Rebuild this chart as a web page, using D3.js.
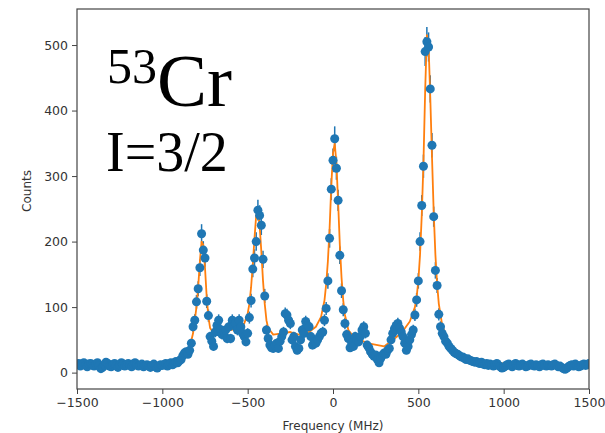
<!DOCTYPE html>
<html>
<head>
<meta charset="utf-8">
<script src="https://cdn.jsdelivr.net/npm/d3@7"></script>
<style>
  body { margin: 0; background: #fff; }
  #chart svg { display: block; }
</style>
</head>
<body>
<div id="chart"></div>
<script>
/** Frequency grid of the measured spectrum (MHz) */
const freqStart = -1500;
const freqStep = 10;

/** Measured counts, one per 10 MHz step from -1500 to 1500 */
const counts = [
  12, 14, 10, 13, 15, 11, 9, 13, 14, 12,
  10, 13, 15, 11, 6, 8, 12, 16, 14, 10,
  9, 12, 14, 11, 8, 12, 15, 13, 10, 12,
  14, 11, 9, 13, 15, 12, 10, 11, 13, 9,
  11, 12, 10, 8, 11, 13, 9, 7, 10, 12,
  11, 12, 14, 10, 13, 15, 12, 14, 17, 15,
  18, 20, 26, 30, 32, 28, 34, 45, 70, 80,
  108, 128, 160, 212, 187, 175, 109, 87, 55, 48,
  40, 62, 72, 80, 66, 58, 62, 65, 52, 70,
  52, 80, 72, 75, 65, 80, 70, 60, 55, 47,
  60, 84, 110, 158, 175, 200, 248, 240, 225, 173,
  117, 65, 52, 42, 38, 37, 42, 45, 37, 48,
  55, 62, 90, 88, 80, 75, 50, 55, 40, 34,
  37, 50, 65, 60, 78, 72, 70, 55, 42, 47,
  45, 50, 55, 60, 62, 80, 98, 140, 205, 280,
  324, 357, 312, 263, 179, 125, 96, 75, 58, 52,
  38, 45, 40, 55, 50, 47, 55, 65, 70, 60,
  42, 38, 32, 28, 25, 27, 20, 15, 22, 27,
  30, 28, 34, 37, 50, 60, 67, 72, 75, 68,
  62, 55, 45, 34, 40, 50, 58, 65, 88, 111,
  140, 200, 255, 315, 490, 505, 497, 433, 347, 238,
  156, 133, 89, 70, 60, 55, 48, 45, 40, 37,
  34, 31, 29, 28, 26, 24, 24, 22, 20, 21,
  19, 18, 17, 16, 17, 15, 14, 16, 13, 12,
  14, 11, 13, 12, 10, 12, 14, 11, 9, 7,
  8, 10, 12, 13, 11, 9, 12, 14, 11, 10,
  12, 13, 11, 9, 10, 12, 13, 11, 10, 12,
  11, 9, 12, 13, 11, 10, 12, 11, 10, 12,
  13, 11, 9, 10, 8, 6, 5, 7, 9, 11,
  12, 10, 13, 11, 9, 10, 12, 13, 11, 12,
  14
];

/** Fitted curve */
const fitFreq = [
  -1500, -1000, -900, -860, -840, -820, -800, -790, -780, -770, -760, -750, -740, -730, -720, -700,
  -650, -600, -550, -520, -500, -490, -480, -470, -460, -450, -440, -430, -420, -410, -400, -390,
  -380, -350, -300, -250, -200, -150, -100, -70, -50, -40, -30, -20, -10, 0, 10, 20, 30, 40, 50,
  60, 70, 90, 120, 200, 300, 400, 450, 480, 490, 500, 510, 520, 530, 540, 550, 560, 570, 580,
  590, 600, 610, 620, 640, 680, 750, 900, 1100, 1500
];
const fitCounts = [
  12, 13, 18, 28, 38, 60, 100, 130, 170, 200, 195, 160, 115, 85, 68, 60,
  62, 65, 68, 75, 90, 105, 130, 165, 205, 240, 245, 225, 185, 140, 105, 80,
  68, 58, 60, 62, 58, 60, 70, 85, 110, 135, 170, 220, 285, 335, 350, 320, 260, 195, 145,
  110, 88, 65, 55, 45, 40, 60, 78, 100, 115, 140, 180, 240, 320, 430, 515, 500, 420, 330,
  245, 180, 135, 105, 72, 45, 28, 16, 12, 11
];

/** Axis ticks */
const xTicks = [-1500, -1000, -500, 0, 500, 1000, 1500];
const yTicks = [0, 100, 200, 300, 400, 500];

/** Graph configs */
const width = 605;
const height = 433;
const margin = { top: 9, right: 16, bottom: 44, left: 77 };
const innerWidth = width - margin.left - margin.right;
const innerHeight = height - margin.top - margin.bottom;
const blue = "#1f77b4";
const orange = "#ff7f0e";
const axisColor = "#444";

/** Build point records */
const points = counts.map((c, i) => ({ f: freqStart + i * freqStep, c }));
const fitPoints = fitFreq.map((f, i) => ({ f, c: fitCounts[i] }));

/** Scales */
const xScale = d3.scaleLinear().domain([-1500, 1500]).range([0, innerWidth]);
const yScale = d3.scaleLinear().domain([-25, 555]).range([innerHeight, 0]);

/** Create SVG */
const svg = d3
  .select("#chart")
  .append("svg")
  .attr("width", width)
  .attr("height", height);

const g = svg
  .append("g")
  .attr("transform", `translate(${margin.left},${margin.top})`);

/** Clip to the plot area */
svg
  .append("clipPath")
  .attr("id", "plot-clip")
  .append("rect")
  .attr("width", innerWidth)
  .attr("height", innerHeight);

const plot = g.append("g").attr("clip-path", "url(#plot-clip)");

/** Error bars (Poisson, sqrt of counts) */
plot
  .selectAll("line.err")
  .data(points)
  .enter()
  .append("line")
  .attr("class", "err")
  .attr("x1", (d) => xScale(d.f))
  .attr("x2", (d) => xScale(d.f))
  .attr("y1", (d) => yScale(d.c - Math.sqrt(d.c)))
  .attr("y2", (d) => yScale(d.c + Math.sqrt(d.c)))
  .attr("stroke", blue)
  .attr("stroke-width", 1.5);

/** Fit line */
plot
  .append("path")
  .datum(fitPoints)
  .attr("fill", "none")
  .attr("stroke", orange)
  .attr("stroke-width", 1.8)
  .attr("stroke-linejoin", "round")
  .attr(
    "d",
    d3
      .line()
      .x((d) => xScale(d.f))
      .y((d) => yScale(d.c))
  );

/** Data markers */
plot
  .selectAll("circle")
  .data(points)
  .enter()
  .append("circle")
  .attr("cx", (d) => xScale(d.f))
  .attr("cy", (d) => yScale(d.c))
  .attr("r", 4.5)
  .attr("fill", blue);

/** Axes (plain integer labels with a real minus sign) */
const tickFormat = (d) => (d < 0 ? "\u2212" + Math.abs(d) : String(d));

const xAxis = g
  .append("g")
  .attr("transform", `translate(0,${innerHeight})`)
  .call(
    d3.axisBottom(xScale).tickValues(xTicks).tickFormat(tickFormat).tickSize(5).tickPadding(4)
  );

const yAxis = g
  .append("g")
  .call(
    d3.axisLeft(yScale).tickValues(yTicks).tickFormat(tickFormat).tickSize(5).tickPadding(4)
  );

[xAxis, yAxis].forEach((axis) => {
  axis.select(".domain").remove();
  axis.selectAll("line").attr("stroke", axisColor);
  axis
    .selectAll("text")
    .attr("fill", "#333")
    .style("font-family", "'DejaVu Sans', sans-serif")
    .style("font-size", "12.5px");
});

/** Frame */
g.append("rect")
  .attr("width", innerWidth)
  .attr("height", innerHeight)
  .attr("fill", "none")
  .attr("stroke", axisColor)
  .attr("stroke-width", 1.2);

/** Axis labels */
svg
  .append("text")
  .attr("x", margin.left + innerWidth / 2)
  .attr("y", 430)
  .attr("text-anchor", "middle")
  .attr("fill", "#333")
  .style("font-family", "'DejaVu Sans', sans-serif")
  .style("font-size", "12px")
  .text("Frequency (MHz)");

svg
  .append("text")
  .attr("transform", `translate(31,${margin.top + innerHeight / 2 - 8}) rotate(-90)`)
  .attr("text-anchor", "middle")
  .attr("fill", "#333")
  .style("font-family", "'DejaVu Sans', sans-serif")
  .style("font-size", "12px")
  .text("Counts");

/** Isotope annotation */
const note = svg
  .append("text")
  .attr("x", 107)
  .attr("y", 106)
  .attr("fill", "#000")
  .style("font-family", "'Liberation Serif', 'Times New Roman', serif");

note.append("tspan").attr("dy", -23).style("font-size", "50px").text("53");
note.append("tspan").attr("dy", 23).style("font-size", "75px").text("Cr");

svg
  .append("text")
  .attr("x", 106)
  .attr("y", 171)
  .attr("fill", "#000")
  .style("font-family", "'Liberation Serif', 'Times New Roman', serif")
  .style("font-size", "56px")
  .text("I=3/2");
</script>
</body>
</html>
